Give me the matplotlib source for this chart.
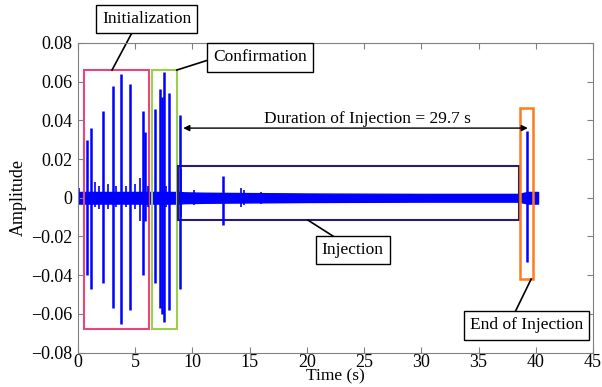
import matplotlib
matplotlib.use("Agg")
import matplotlib.pyplot as plt
from matplotlib.patches import Rectangle

plt.rcParams['font.family'] = ['Liberation Serif', 'DejaVu Serif']

# large spikes: time (s), positive peak, negative peak
spike_t = [0.79, 1.14, 2.18, 3.03, 3.79, 4.57, 5.68, 5.88,
           6.76, 7.13, 7.35, 7.54, 7.92, 8.94, 12.7, 39.2]
spike_up = [0.030, 0.036, 0.045, 0.058, 0.064, 0.059, 0.045, 0.034,
            0.046, 0.056, 0.052, 0.065, 0.054, 0.043, 0.011, 0.0345]
spike_dn = [-0.040, -0.047, -0.044, -0.057, -0.065, -0.058, -0.040, -0.012,
            -0.044, -0.057, -0.060, -0.064, -0.058, -0.047, -0.014, -0.033]

# small spikes in the background signal
small_t = [0.1, 1.5, 1.8, 2.6, 3.3, 4.2, 5.0, 5.4, 6.1, 7.7, 9.0, 10.1, 14.2, 14.5, 16.0]
small_up = [0.005, 0.008, 0.006, 0.007, 0.006, 0.006, 0.007, 0.010, 0.006, 0.006,
            0.015, 0.004, 0.005, 0.004, 0.003]
small_dn = [-0.003, -0.005, -0.006, -0.006, -0.005, -0.005, -0.006, -0.012, -0.005, -0.005,
            -0.010, -0.004, -0.005, -0.004, -0.003]

# envelope of the noise band
band_t = [0.0, 0.5, 6.3, 6.6, 8.8, 9.3, 11.0, 20.0, 30.0, 38.5, 39.3, 40.2]
band_half = [0.003, 0.003, 0.003, 0.003, 0.003, 0.0028, 0.0026, 0.0022, 0.002, 0.002, 0.003, 0.003]
band_lo = [-h for h in band_half]

fig = plt.figure(figsize=(6.02, 3.87), dpi=100)
ax = fig.add_axes([0.1296, 0.089, 0.8554, 0.800])

blue = '#0000ff'
ax.fill_between(band_t, band_lo, band_half, color=blue, lw=1)
ax.vlines(small_t, small_dn, small_up, color=blue, lw=1.2)
ax.vlines(spike_t, spike_dn, spike_up, color=blue, lw=1.8)

# region boxes
ax.add_patch(Rectangle((0.5, -0.068), 5.73, 0.134, fill=False, ec='#e8457a', lw=1.5))
ax.add_patch(Rectangle((6.5, -0.068), 2.16, 0.134, fill=False, ec='#9ad04c', lw=1.5))
ax.add_patch(Rectangle((8.77, -0.0116), 29.73, 0.028, fill=False, ec='#2b1b6b', lw=1.5))
ax.add_patch(Rectangle((38.64, -0.042), 1.11, 0.0885, fill=False, ec='#ff7b1c', lw=1.8))

box = dict(boxstyle='square,pad=0.35', fc='white', ec='black', lw=1)
fs = 12.5
ax.text(6.0, 0.0925, 'Initialization', ha='center', va='center', fontsize=fs, bbox=box, clip_on=False)
ax.plot([4.69, 2.97], [0.085, 0.066], color='black', lw=1.2, clip_on=False)
ax.text(15.9, 0.0725, 'Confirmation', ha='center', va='center', fontsize=fs, bbox=box)
ax.plot([11.45, 8.63], [0.0713, 0.066], color='black', lw=1.2)
ax.text(24.0, -0.0272, 'Injection', ha='center', va='center', fontsize=fs, bbox=box)
ax.plot([20.1, 22.6], [-0.0116, -0.021], color='black', lw=1.2)
ax.text(39.2, -0.066, 'End of Injection', ha='center', va='center', fontsize=fs, bbox=box)
ax.plot([39.6, 38.0], [-0.042, -0.0614], color='black', lw=1.2)

ax.annotate('', xy=(8.95, 0.036), xytext=(39.55, 0.036),
            arrowprops=dict(arrowstyle='<|-|>', color='black', lw=1, mutation_scale=9))
ax.text(25.3, 0.0405, 'Duration of Injection = 29.7 s', ha='center', va='center', fontsize=fs)

ax.set_xlim(0, 45)
ax.set_ylim(-0.08, 0.08)
ax.set_xticks(range(0, 46, 5))
ax.set_yticks([-0.08, -0.06, -0.04, -0.02, 0, 0.02, 0.04, 0.06, 0.08])
ax.set_yticklabels(['\u22120.08', '\u22120.06', '\u22120.04', '\u22120.02', '0',
                    '0.02', '0.04', '0.06', '0.08'])
ax.tick_params(direction='in', top=True, right=True, labelsize=13, color='#808080', length=4)
ax.tick_params(axis='x', pad=1)
ax.tick_params(axis='y', pad=4)
for s in ax.spines.values():
    s.set_color('#808080')
ax.set_xlabel('Time (s)', fontsize=12.5, labelpad=-2)
ax.set_ylabel('Amplitude', fontsize=13, labelpad=3)

fig.savefig('out.png', dpi=100)
